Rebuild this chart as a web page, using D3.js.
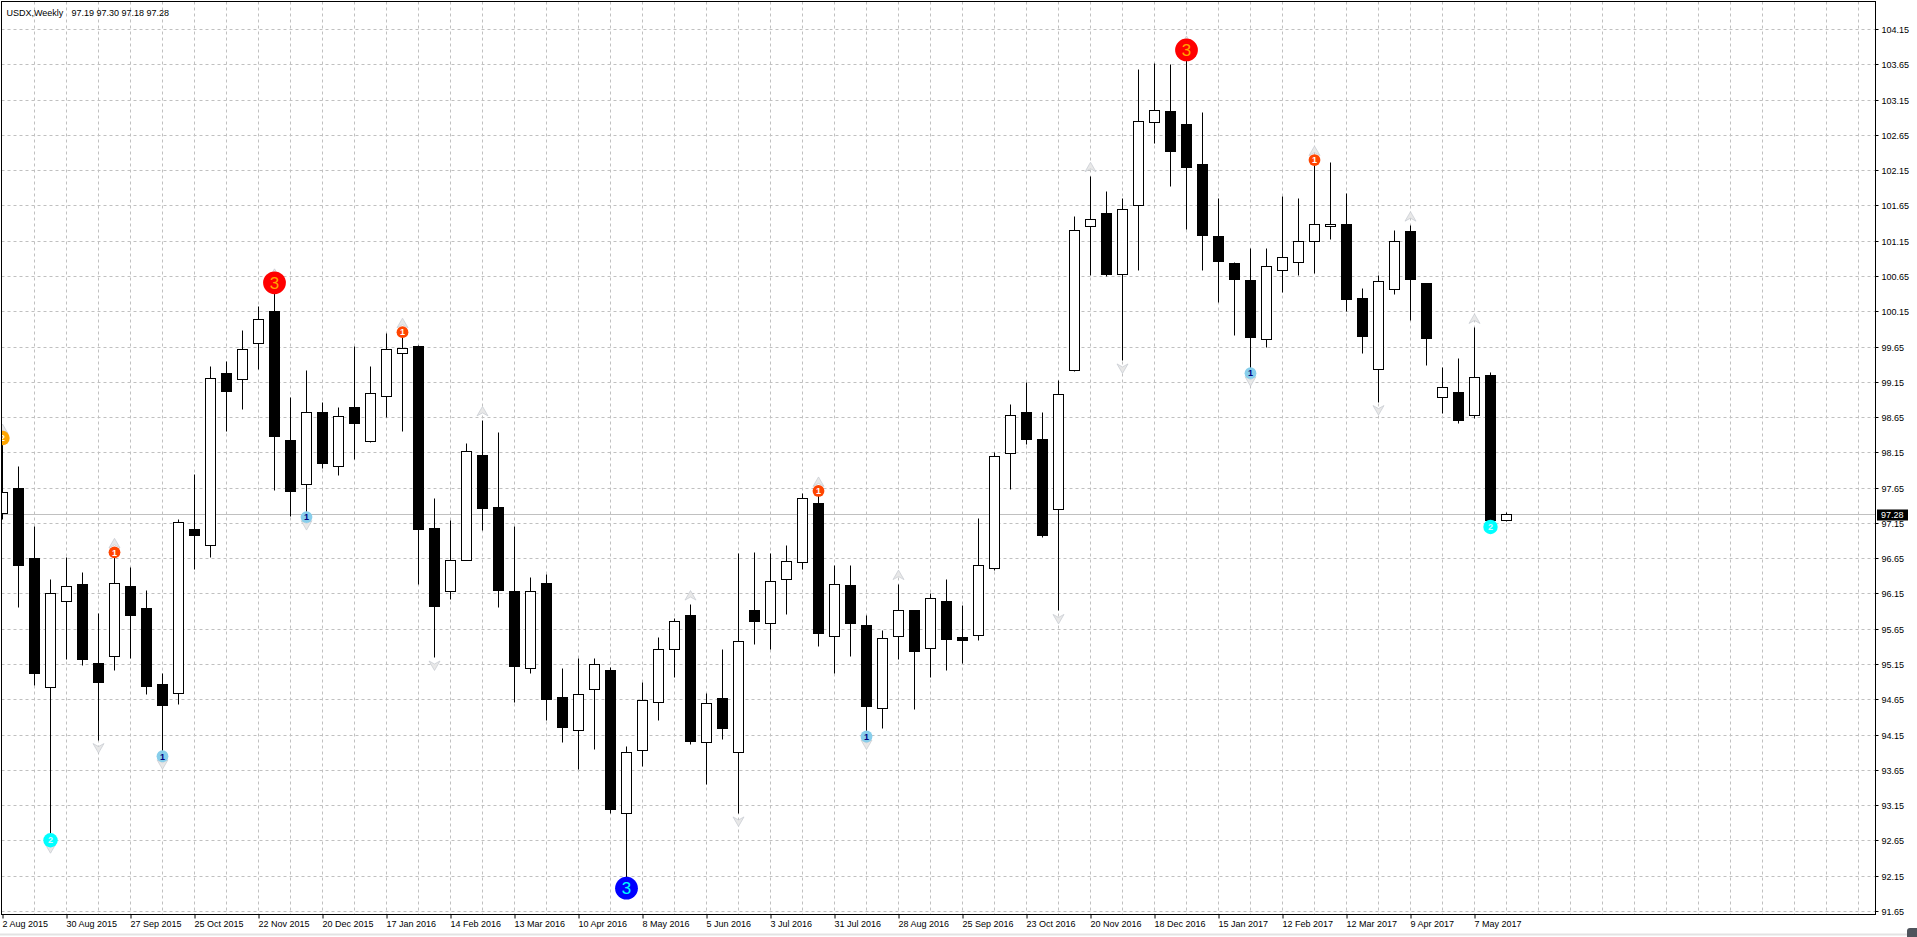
<!DOCTYPE html>
<html><head><meta charset="utf-8">
<script src="https://cdn.jsdelivr.net/npm/d3@7"></script>
<style>
html,body{margin:0;padding:0;background:#fff;overflow:hidden}
svg{display:block}
text{font-family:"Liberation Sans",Arial,sans-serif;font-size:9px;fill:#000}
</style></head><body>
<svg id="chart" width="1917" height="937"></svg>
<script>
// Weekly USDX candles, one per week starting 2 Aug 2015
const opens = [97.29,97.64,96.65,94.83,96.05,96.29,95.17,95.26,96.26,95.95,
94.87,94.74,97.07,96.83,99.27,99.19,99.70,100.15,98.33,97.70,
98.72,97.95,98.79,98.31,98.95,99.56,99.66,97.08,96.19,96.63,
98.11,97.38,96.19,95.09,96.30,94.68,94.22,94.80,95.07,93.04,
93.93,94.61,95.36,95.85,94.05,94.67,93.90,95.92,95.73,96.35,
96.60,97.43,95.55,96.27,95.71,94.53,95.55,95.91,95.38,96.05,
95.54,95.56,96.51,98.14,98.72,98.34,97.35,99.32,101.36,101.54,
100.68,101.66,102.83,102.99,102.81,102.23,101.22,100.84,100.59,99.76,
100.74,100.85,101.15,101.36,101.38,100.34,99.33,100.47,101.29,100.55,
98.94,99.01,98.68,99.25,97.19];
const highs = [98.36,97.95,97.11,96.36,96.66,96.46,95.88,96.74,96.53,96.20,
95.02,97.20,97.85,99.37,99.44,99.88,100.23,100.56,98.93,99.32,
98.87,98.79,99.66,99.37,99.84,99.86,99.67,97.51,97.19,98.28,
98.61,98.44,97.10,96.39,96.43,95.10,95.24,95.24,95.11,93.99,
94.89,95.53,95.80,96.00,94.74,95.36,96.73,96.74,96.73,96.83,
97.57,97.61,96.56,96.56,95.84,95.63,96.29,95.92,96.15,96.36,
95.99,97.22,98.15,98.84,99.15,98.72,99.17,101.50,102.07,101.86,
101.76,103.59,103.67,103.66,103.86,102.98,101.76,100.85,101.05,101.04,
101.79,101.75,102.30,102.27,101.82,100.48,100.67,101.30,101.37,100.55,
99.36,99.49,99.92,99.29,97.30];
const lows = [97.20,95.96,94.86,92.66,95.22,95.14,94.08,95.06,95.24,94.72,
93.85,94.59,96.49,96.66,98.45,98.76,99.33,97.61,97.25,97.24,
97.93,97.83,98.06,98.29,98.65,98.45,96.28,95.25,96.07,96.62,
97.05,95.96,94.61,95.02,94.35,94.04,93.66,93.94,93.04,91.98,
93.71,94.35,94.97,94.02,93.45,94.09,93.04,95.43,95.36,95.86,
96.49,95.40,95.02,95.27,94.13,94.25,95.22,94.51,94.96,95.07,
95.17,95.49,96.48,97.63,98.27,96.95,95.91,99.30,100.66,100.65,
99.46,100.74,102.53,101.92,101.31,100.74,100.28,99.81,99.28,99.65,
100.42,100.67,100.69,101.18,100.16,99.56,98.87,100.39,100.03,99.39,
98.71,98.57,98.63,97.10,97.18];
const closes = [97.59,96.55,95.03,96.15,96.26,95.22,94.89,96.30,95.85,94.84,
94.57,97.17,96.98,99.20,99.02,99.61,100.04,98.38,97.60,98.72,
98.00,98.66,98.56,98.99,99.61,99.63,97.06,95.97,96.63,98.17,
97.36,96.20,95.12,96.19,94.65,94.26,94.73,95.15,93.10,93.91,
94.64,95.36,95.76,94.06,94.60,94.24,95.48,95.76,96.33,96.61,
97.50,95.59,96.28,95.73,94.55,95.52,95.92,95.33,96.09,95.50,
95.49,96.56,98.10,98.68,98.34,96.98,98.98,101.30,101.46,100.68,
101.60,102.85,103.00,102.42,102.19,101.23,100.86,100.60,99.78,100.79,
100.92,101.15,101.39,101.39,100.33,99.80,100.58,101.15,100.60,99.77,
99.07,98.61,99.22,97.19,97.28];

const dateLabels = ["2 Aug 2015","30 Aug 2015","27 Sep 2015","25 Oct 2015","22 Nov 2015","20 Dec 2015",
"17 Jan 2016","14 Feb 2016","13 Mar 2016","10 Apr 2016","8 May 2016","5 Jun 2016","3 Jul 2016",
"31 Jul 2016","28 Aug 2016","25 Sep 2016","23 Oct 2016","20 Nov 2016","18 Dec 2016","15 Jan 2017",
"12 Feb 2017","12 Mar 2017","9 Apr 2017","7 May 2017"];
const dateLabelIdx = [0,4,8,12,16,20,24,28,32,36,40,44,48,52,56,60,64,68,72,76,80,84,88,92];
const priceTicks = [91.65,92.15,92.65,93.15,93.65,94.15,94.65,95.15,95.65,96.15,96.65,97.15,97.65,
98.15,98.65,99.15,99.65,100.15,100.65,101.15,101.65,102.15,102.65,103.15,103.65,104.15];

const highMarkIdx = [0, 7, 17, 25, 51, 74, 82];
const highMarkLevel = [2, 1, 3, 1, 1, 3, 1];
const lowMarkIdx = [3, 10, 19, 39, 54, 78, 93];
const lowMarkLevel = [2, 1, 1, 3, 1, 1, 2];
const upArrowIdx = [0, 7, 17, 25, 30, 43, 51, 56, 68, 74, 82, 88, 92];
const downArrowIdx = [3, 6, 10, 19, 27, 46, 54, 66, 70, 78, 86];

const symbolText = "USDX,Weekly";
const lastBar = {o: 97.19, h: 97.30, l: 97.18, c: 97.28};

// ---- layout ----
const L = 1.5, T = 1.5, R = 1875.5, B = 914.5;
const svg = d3.select("#chart");
const x = d3.scaleLinear().domain([0, 116]).range([2.5, 2.5 + 16 * 116]);
const y = d3.scaleLinear().domain([91.65, 104.15]).range([911.5, 29.5]);
const cy = v => Math.round(y(v) - 0.5) + 0.5;

const plot = svg.append("g");
svg.append("defs").append("clipPath").attr("id", "clip")
  .append("rect").attr("x", L).attr("y", T).attr("width", R - L).attr("height", B - T);
plot.attr("clip-path", "url(#clip)");

// grid
const gridCol = "#c0c0c0";
plot.append("g").selectAll("line").data(priceTicks).join("line")
  .attr("x1", L).attr("x2", R).attr("y1", d => cy(d)).attr("y2", d => cy(d))
  .attr("stroke", gridCol).attr("stroke-dasharray", "3,3");
plot.append("g").selectAll("line").data(d3.range(2, 117, 2)).join("line")
  .attr("x1", d => x(d)).attr("x2", d => x(d)).attr("y1", T).attr("y2", B)
  .attr("stroke", gridCol).attr("stroke-dasharray", "3,3");

// current price line
plot.append("line").attr("x1", L).attr("x2", R)
  .attr("y1", cy(lastBar.c)).attr("y2", cy(lastBar.c)).attr("stroke", "#c0c0c0");

// arrows (fractal-style chevrons)
const upPath = "M0,-5 L5.5,4.5 L0,1.5 L-5.5,4.5 Z";
const downPath = "M0,5 L5.5,-4.5 L0,-1.5 L-5.5,-4.5 Z";
plot.append("g").selectAll("path").data(upArrowIdx).join("path")
  .attr("d", upPath)
  .attr("transform", i => `translate(${x(i)},${y(highs[i]) - 9})`)
  .attr("fill", "#e8e8e8").attr("stroke", "#c4c8d0").attr("stroke-width", 0.7);
plot.append("g").selectAll("path").data(downArrowIdx).join("path")
  .attr("d", downPath)
  .attr("transform", i => `translate(${x(i)},${y(lows[i]) + 8})`)
  .attr("fill", "#e8e8e8").attr("stroke", "#c4c8d0").attr("stroke-width", 0.7);

// candles
const idx = d3.range(opens.length);
const cg = plot.append("g");
cg.selectAll("line").data(idx).join("line")
  .attr("x1", i => x(i)).attr("x2", i => x(i))
  .attr("y1", i => cy(highs[i])).attr("y2", i => cy(lows[i]))
  .attr("stroke", "#000");
cg.selectAll("rect").data(idx).join("rect")
  .attr("x", i => x(i) - 5).attr("width", 10)
  .attr("y", i => cy(Math.max(opens[i], closes[i])))
  .attr("height", i => Math.max(1, cy(Math.min(opens[i], closes[i])) - cy(Math.max(opens[i], closes[i]))))
  .attr("fill", i => closes[i] >= opens[i] ? "#fff" : "#000")
  .attr("stroke", "#000");

// markers
const rad = {1: 5.9, 2: 7.2, 3: 11.4};
const hiFill = {1: "#FF4500", 2: "#FFA500", 3: "#FF0000"};
const hiText = {1: "#ffffff", 2: "#ffffff", 3: "#FFA500"};
const loFill = {1: "#87CEEB", 2: "#00FFFF", 3: "#0000FF"};
const loText = {1: "#000080", 2: "#d8f8ff", 3: "#00FFFF"};
function drawMarkers(list, levels, vals, fills, tcols) {
  const g = plot.append("g").selectAll("g").data(list).join("g")
    .attr("transform", (i, k) => `translate(${x(i)},${y(vals[i])})`);
  g.append("circle").attr("r", (i, k) => rad[levels[k]]).attr("fill", (i, k) => fills[levels[k]]);
  g.append("text").text((i, k) => levels[k])
    .attr("text-anchor", "middle").attr("dy", "0.36em")
    .style("font-size", (i, k) => levels[k] === 3 ? "17px" : "9px")
    .style("font-weight", (i, k) => levels[k] === 3 ? "normal" : "bold")
    .style("fill", (i, k) => tcols[levels[k]]);
}
drawMarkers(highMarkIdx, highMarkLevel, highs, hiFill, hiText);
drawMarkers(lowMarkIdx, lowMarkLevel, lows, loFill, loText);

// frame
svg.append("rect").attr("x", L).attr("y", T).attr("width", R - L).attr("height", B - T)
  .attr("fill", "none").attr("stroke", "#000");

// y axis
const yAxis = svg.append("g").attr("transform", `translate(${R},0)`)
  .call(d3.axisRight(y).tickValues(priceTicks).tickFormat(d3.format(".2f")).tickSize(3).tickPadding(3));
yAxis.select(".domain").remove();
yAxis.selectAll(".tick").attr("transform", d => `translate(0,${cy(d)})`);
yAxis.selectAll("text").attr("font-family", null).attr("font-size", null).attr("dy", "0.34em");
yAxis.attr("font-family", null).attr("font-size", null);

// x axis
const xAxis = svg.append("g").attr("transform", `translate(0,${B})`)
  .call(d3.axisBottom(x).tickValues(dateLabelIdx).tickFormat((d, k) => dateLabels[k]).tickSize(4).tickPadding(2));
xAxis.select(".domain").remove();
xAxis.attr("font-family", null).attr("font-size", null);
xAxis.selectAll("text").attr("text-anchor", "start").attr("x", -0.5);

// current price label
const lpY = cy(lastBar.c);
svg.append("rect").attr("x", R + 1.5).attr("y", lpY - 5).attr("width", 31).attr("height", 11).attr("fill", "#000");
svg.append("text").attr("x", R + 5.5).attr("y", lpY).attr("dy", "0.34em").style("fill", "#fff")
  .text(d3.format(".2f")(lastBar.c));

// title
svg.append("text").attr("x", 6.5).attr("y", 15.5).text(symbolText);
svg.append("text").attr("x", 71.5).attr("y", 15.5)
  .text([lastBar.o, lastBar.h, lastBar.l, lastBar.c].map(d3.format(".2f")).join(" "));

// window bottom edge
svg.append("line").attr("x1", 0).attr("x2", 1917).attr("y1", 934.5).attr("y2", 934.5).attr("stroke", "#e3e3e3").attr("stroke-width", 2);
svg.append("rect").attr("x", 1907).attr("y", 928).attr("width", 12).attr("height", 11).attr("rx", 3).attr("fill", "#4e545c");
</script>
</body></html>
